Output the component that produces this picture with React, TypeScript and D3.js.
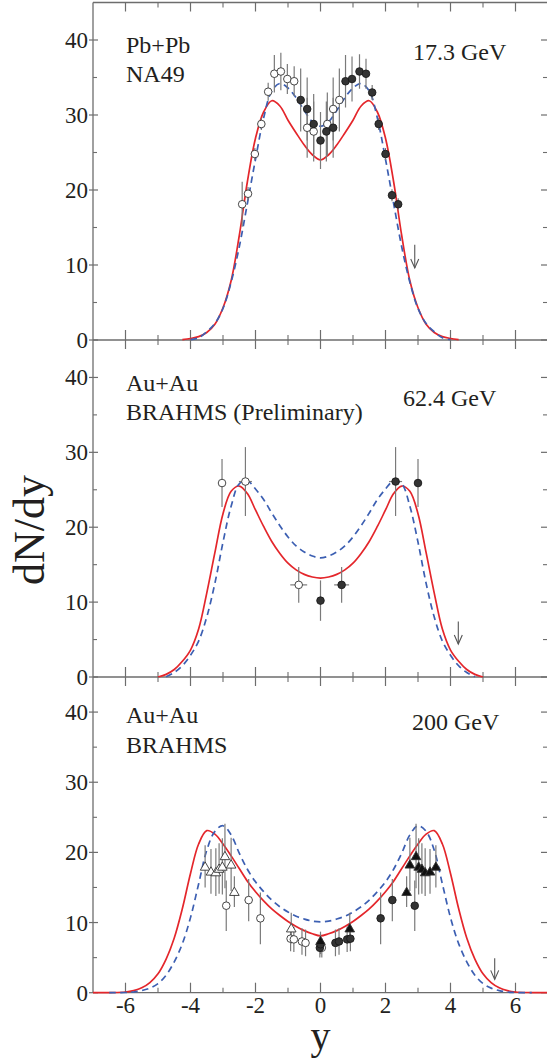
import React from "react";
import * as d3 from "d3";

// ---------- axis ticks ----------
const xMajorTicks = [-6, -4, -2, 0, 2, 4, 6];
const xMinorTicks = [-5, -3, -1, 1, 3, 5];
const yMajorTicks = [0, 10, 20, 30, 40];
const yMinorTicks = [5, 15, 25, 35];

// ---------- top panel: Pb+Pb NA49 17.3 GeV ----------
const topRedY = [-4.25,-4,-3.75,-3.5,-3.25,-3,-2.75,-2.5,-2.25,-2,-1.75,-1.5,-1.25,-1,-0.75,-0.5,-0.25,0,0.25,0.5,0.75,1,1.25,1.5,1.75,2,2.25,2.5,2.75,3,3.25,3.5,3.75,4,4.25];
const topRedV = [0.05,0.2,0.45,1.0,2.1,4.3,7.9,13.9,21.1,26.9,30.4,31.9,31.2,29.3,27.6,26.0,24.7,24.0,24.7,26.0,27.6,29.3,31.2,31.9,30.4,26.9,21.1,13.9,7.9,4.3,2.1,1.0,0.45,0.2,0.05];
const topBlueY = [-4,-3.75,-3.5,-3.25,-3,-2.75,-2.5,-2.25,-2,-1.75,-1.5,-1.25,-1,-0.75,-0.5,-0.25,0,0.25,0.5,0.75,1,1.25,1.5,1.75,2,2.25,2.5,2.75,3,3.25,3.5,3.75,4];
const topBlueV = [0.05,0.3,1.1,2.2,4.2,7.7,12.4,18.2,24.1,29.6,33.2,34.2,33.6,32.3,30.6,29.1,28.5,29.1,30.6,32.3,33.6,34.2,33.2,29.6,24.1,18.2,12.4,7.7,4.2,2.2,1.1,0.3,0.05];
const topOpenY = [-2.41,-2.23,-2.02,-1.82,-1.61,-1.42,-1.22,-1.02,-0.81,-0.41,-0.21,0.21,0.39,0.58];
const topOpenV = [18.1,19.5,24.8,28.8,33.1,35.5,35.8,34.8,34.5,28.3,27.8,28.8,30.8,32.0];
const topOpenErr = [3.0,0.9,0.8,0.8,1.2,2.5,2.5,2.0,2.0,4.0,4.0,4.2,4.2,4.2];
const topFilledY = [-0.61,-0.41,-0.21,0.0,0.18,0.39,0.77,0.97,1.20,1.40,1.59,1.79,2.00,2.20,2.39];
const topFilledV = [32.0,30.8,28.8,26.6,27.8,28.3,34.5,34.8,35.8,35.5,33.0,28.8,24.8,19.3,18.1];
const topFilledErr = [4.2,4.2,4.0,3.8,4.0,4.0,3.5,3.0,2.3,2.0,1.0,0.8,0.8,0.8,0.8];
const topArrow = [2.9, 12.7, 9.6];

// ---------- middle panel: Au+Au BRAHMS (Preliminary) 62.4 GeV ----------
const midRedY = [-5,-4.75,-4.5,-4.25,-4,-3.75,-3.5,-3.25,-3,-2.75,-2.5,-2.25,-2,-1.75,-1.5,-1.25,-1,-0.75,-0.5,-0.25,0,0.25,0.5,0.75,1,1.25,1.5,1.75,2,2.25,2.5,2.75,3,3.25,3.5,3.75,4,4.25,4.5,4.75,5];
const midRedV = [0,0.35,1.0,2.1,3.6,6.4,11.2,16.6,21.8,24.8,25.5,24.5,22.3,20.1,18.1,16.5,15.2,14.3,13.7,13.35,13.2,13.35,13.7,14.3,15.2,16.5,18.1,20.1,22.3,24.5,25.5,24.8,21.8,16.6,11.2,6.4,3.6,2.1,1.0,0.35,0];
const midBlueY = [-4.75,-4.5,-4.25,-4,-3.75,-3.5,-3.25,-3,-2.75,-2.5,-2.25,-2,-1.75,-1.5,-1.25,-1,-0.75,-0.5,-0.25,0,0.25,0.5,0.75,1,1.25,1.5,1.75,2,2.25,2.5,2.75,3,3.25,3.5,3.75,4,4.25,4.5,4.75];
const midBlueV = [0.02,0.6,1.5,2.9,4.8,8.0,12.5,18.0,22.8,25.8,26.2,25.1,23.7,21.9,20.2,18.7,17.5,16.7,16.15,15.9,16.15,16.7,17.5,18.7,20.2,21.9,23.7,25.1,26.2,25.8,22.8,18.0,12.5,8.0,4.8,2.9,1.5,0.6,0.02];
const midOpenY = [-3.03,-2.31,-0.67];
const midOpenV = [25.9,26.1,12.3];
const midOpenErr = [3.2,4.6,2.4];
const midOpenXErr = [0,0.2,0.26];
const midFilledY = [0.0,0.65,2.31,3.0];
const midFilledV = [10.2,12.3,26.1,25.9];
const midFilledErr = [2.7,2.4,4.6,3.2];
const midFilledXErr = [0,0.23,0.2,0];
const midArrow = [4.24, 7.4, 4.4];

// ---------- bottom panel: Au+Au BRAHMS 200 GeV ----------
const botRedY = [-7,-6.5,-6,-5.75,-5.5,-5.25,-5,-4.75,-4.5,-4.25,-4,-3.75,-3.5,-3.25,-3,-2.75,-2.5,-2.25,-2,-1.75,-1.5,-1.25,-1,-0.75,-0.5,-0.25,0,0.25,0.5,0.75,1,1.25,1.5,1.75,2,2.25,2.5,2.75,3,3.25,3.5,3.75,4,4.25,4.5,4.75,5,5.25,5.5,5.75,6,6.5,7];
const botRedV = [0,0.02,0.1,0.3,0.7,1.45,2.7,4.8,7.8,12.0,17.0,21.2,23.1,22.6,21.2,19.5,17.7,15.9,14.4,13.1,11.95,11.0,10.15,9.45,8.85,8.4,8.1,8.4,8.85,9.45,10.15,11.0,11.95,13.1,14.4,15.9,17.7,19.5,21.2,22.6,23.1,21.2,17.0,12.0,7.8,4.8,2.7,1.45,0.7,0.3,0.1,0.02,0];
const botBlueY = [-6.5,-6,-5.75,-5.5,-5.25,-5,-4.75,-4.5,-4.25,-4,-3.75,-3.5,-3.25,-3,-2.75,-2.5,-2.25,-2,-1.75,-1.5,-1.25,-1,-0.75,-0.5,-0.25,0,0.25,0.5,0.75,1,1.25,1.5,1.75,2,2.25,2.5,2.75,3,3.25,3.5,3.75,4,4.25,4.5,4.75,5,5.25,5.5,5.75,6,6.5];
const botBlueV = [0,0.03,0.1,0.3,0.65,1.3,2.5,4.4,7.0,10.7,15.5,20.3,23.0,23.8,22.5,19.9,17.6,15.8,14.4,13.2,12.25,11.5,10.9,10.5,10.2,10.1,10.2,10.5,10.9,11.5,12.25,13.2,14.4,15.8,17.6,19.9,22.5,23.8,23.0,20.3,15.5,10.7,7.0,4.4,2.5,1.3,0.65,0.3,0.1,0.03,0];
const botOpenTriY = [-3.55,-3.37,-3.22,-3.12,-3.02,-2.94,-2.75,-2.65,-0.90];
const botOpenTriV = [18.0,17.3,17.2,17.7,18.0,19.5,18.3,14.4,9.2];
const botOpenTriErr = [3.0,3.2,3.4,3.6,4.0,4.6,3.8,2.2,2.2];
const botFilledTriY = [0.0,0.90,2.65,2.75,2.94,3.02,3.12,3.22,3.37,3.55];
const botFilledTriV = [7.4,9.2,14.4,18.3,19.5,18.0,17.7,17.2,17.3,18.0];
const botFilledTriErr = [1.3,2.2,2.2,3.8,4.6,4.0,3.6,3.4,3.2,3.0];
const botOpenCircY = [-2.90,-2.21,-1.85,-0.92,-0.82,-0.57,-0.46,0.04];
const botOpenCircV = [12.4,13.2,10.6,7.7,7.6,7.3,7.1,6.4];
const botOpenCircErr = [3.6,3.0,3.7,1.8,1.8,1.9,1.9,1.4];
const botOpenCircXErr = [0,0.12,0,0,0,0,0,0];
const botFilledCircY = [-0.02,0.0,0.46,0.57,0.82,0.92,1.85,2.21,2.90];
const botFilledCircV = [6.4,6.9,7.1,7.3,7.6,7.7,10.6,13.2,12.4];
const botFilledCircErr = [1.4,1.4,1.9,1.9,1.8,1.8,3.7,3.0,3.6];
const botFilledCircXErr = [0,0,0,0,0,0,0,0.12,0];
const botArrow = [5.36, 4.9, 1.9];

const FONT = "Liberation Serif, Times New Roman, serif";
const AXIS = "#6d6d6d";
const TEXT = "#231f20";
const RED = "#e4262b";
const BLUE = "#3c5fb2";
const ERR = "#7a7a7a";

const xScale = d3.scaleLinear().domain([-7, 7]).range([93, 548]);

type Series = {
  ys: number[]; vs: number[]; err: number[]; xerr?: number[];
  shape: "circle" | "triangle"; filled: boolean;
};

type PanelDef = {
  bottom: number; top: number;
  red: [number[], number[]]; blue: [number[], number[]];
  series: Series[];
  arrow: number[];
  label1: string; label2: string; energy: string;
  l1y: number; l2y: number; ex: number; ey: number;
  drawTop: boolean;
};

const panels: PanelDef[] = [
  {
    bottom: 340, top: 2.5,
    red: [topRedY, topRedV], blue: [topBlueY, topBlueV],
    series: [
      { ys: topOpenY, vs: topOpenV, err: topOpenErr, shape: "circle", filled: false },
      { ys: topFilledY, vs: topFilledV, err: topFilledErr, shape: "circle", filled: true },
    ],
    arrow: topArrow,
    label1: "Pb+Pb", label2: "NA49", energy: "17.3 GeV",
    l1y: 53, l2y: 81.5, ex: 413, ey: 60, drawTop: true,
  },
  {
    bottom: 677, top: 340,
    red: [midRedY, midRedV], blue: [midBlueY, midBlueV],
    series: [
      { ys: midOpenY, vs: midOpenV, err: midOpenErr, xerr: midOpenXErr, shape: "circle", filled: false },
      { ys: midFilledY, vs: midFilledV, err: midFilledErr, xerr: midFilledXErr, shape: "circle", filled: true },
    ],
    arrow: midArrow,
    label1: "Au+Au", label2: "BRAHMS (Preliminary)", energy: "62.4 GeV",
    l1y: 391, l2y: 420, ex: 403, ey: 406, drawTop: false,
  },
  {
    bottom: 992.7, top: 677,
    red: [botRedY, botRedV], blue: [botBlueY, botBlueV],
    series: [
      { ys: botOpenCircY, vs: botOpenCircV, err: botOpenCircErr, xerr: botOpenCircXErr, shape: "circle", filled: false },
      { ys: botFilledCircY, vs: botFilledCircV, err: botFilledCircErr, xerr: botFilledCircXErr, shape: "circle", filled: true },
      { ys: botOpenTriY, vs: botOpenTriV, err: botOpenTriErr, shape: "triangle", filled: false },
      { ys: botFilledTriY, vs: botFilledTriV, err: botFilledTriErr, shape: "triangle", filled: true },
    ],
    arrow: botArrow,
    label1: "Au+Au", label2: "BRAHMS", energy: "200 GeV",
    l1y: 723, l2y: 753, ex: 412, ey: 730, drawTop: false,
  },
];

const textStyle = { fontFamily: FONT };

function Panel({ p }: { p: PanelDef }) {
  const y = d3.scaleLinear().domain([0, 45]).range([p.bottom, p.top]);
  const line = d3.line<[number, number]>()
    .x((d) => xScale(d[0]))
    .y((d) => y(d[1]))
    .curve(d3.curveCatmullRom.alpha(0.5));
  const redPts = p.red[0].map((v, i) => [v, p.red[1][i]] as [number, number]);
  const bluePts = p.blue[0].map((v, i) => [v, p.blue[1][i]] as [number, number]);
  const tri = d3.symbol().type(d3.symbolTriangle).size(40)();
  const [ax, a1, a2] = p.arrow;
  const axp = xScale(ax);
  return (
    <g>
      {/* frame */}
      <line x1={93} x2={93} y1={p.top} y2={p.bottom} stroke={AXIS} strokeWidth={1.3} />
      <line x1={93} x2={548} y1={p.bottom} y2={p.bottom} stroke={AXIS} strokeWidth={1.3} />
      {p.drawTop && <line x1={93} x2={548} y1={p.top} y2={p.top} stroke={AXIS} strokeWidth={1.3} />}
      {/* x ticks */}
      {xMajorTicks.map((t) => (
        <g key={"xM" + t}>
          <line x1={xScale(t)} x2={xScale(t)} y1={p.bottom} y2={p.bottom - 10} stroke={AXIS} strokeWidth={1.2} />
          <line x1={xScale(t)} x2={xScale(t)} y1={p.top} y2={p.top + 9} stroke={AXIS} strokeWidth={1.2} />
        </g>
      ))}
      {xMinorTicks.map((t) => (
        <g key={"xm" + t}>
          <line x1={xScale(t)} x2={xScale(t)} y1={p.bottom} y2={p.bottom - 5} stroke={AXIS} strokeWidth={1.1} />
          <line x1={xScale(t)} x2={xScale(t)} y1={p.top} y2={p.top + 5} stroke={AXIS} strokeWidth={1.1} />
        </g>
      ))}
      {/* y ticks */}
      {yMajorTicks.map((t) => (
        <g key={"yM" + t}>
          <line x1={89} x2={98} y1={y(t)} y2={y(t)} stroke={AXIS} strokeWidth={1.2} />
          <line x1={541} x2={548} y1={y(t)} y2={y(t)} stroke={AXIS} strokeWidth={1.2} />
          <text x={88} y={y(t)} dy="0.35em" textAnchor="end" style={textStyle} fontSize={23} fill={TEXT}>{t}</text>
        </g>
      ))}
      {yMinorTicks.map((t) => (
        <g key={"ym" + t}>
          <line x1={93} x2={97} y1={y(t)} y2={y(t)} stroke={AXIS} strokeWidth={1.1} />
          <line x1={543} x2={548} y1={y(t)} y2={y(t)} stroke={AXIS} strokeWidth={1.1} />
        </g>
      ))}
      {/* curves */}
      <path d={line(redPts) || ""} fill="none" stroke={RED} strokeWidth={1.7} />
      <path d={line(bluePts) || ""} fill="none" stroke={BLUE} strokeWidth={1.7} strokeDasharray="6.5,4.5" />
      {/* arrow */}
      <g stroke="#555" strokeWidth={1.1} fill="none">
        <line x1={axp} x2={axp} y1={y(a1)} y2={y(a2)} />
        <polyline points={`${axp - 4},${y(a2) - 9} ${axp},${y(a2)} ${axp + 4},${y(a2) - 9}`} />
      </g>
      {/* error bars */}
      {p.series.map((s, si) => (
        <g key={"e" + si} stroke={ERR} strokeWidth={1.2}>
          {s.ys.map((yy, i) => (
            <g key={i}>
              <line x1={xScale(yy)} x2={xScale(yy)} y1={y(s.vs[i] - s.err[i])} y2={y(s.vs[i] + s.err[i])} />
              {s.xerr && s.xerr[i] > 0 && (
                <line x1={xScale(yy - s.xerr[i])} x2={xScale(yy + s.xerr[i])} y1={y(s.vs[i])} y2={y(s.vs[i])} />
              )}
            </g>
          ))}
        </g>
      ))}
      {/* markers */}
      {p.series.map((s, si) => (
        <g key={"m" + si}>
          {s.ys.map((yy, i) =>
            s.shape === "circle" ? (
              <circle key={i} cx={xScale(yy)} cy={y(s.vs[i])} r={3.8}
                fill={s.filled ? "#333" : "#fff"} stroke={s.filled ? "#1a1a1a" : "#333"} strokeWidth={0.9} />
            ) : (
              <path key={i} d={tri || ""} transform={`translate(${xScale(yy)},${y(s.vs[i]) + 1})`}
                fill={s.filled ? "#111" : "#fff"} stroke="#333" strokeWidth={0.9} />
            )
          )}
        </g>
      ))}
      {/* labels */}
      <text x={126} y={p.l1y} style={textStyle} fontSize={24} fill={TEXT}>{p.label1}</text>
      <text x={126} y={p.l2y} style={textStyle} fontSize={24} fill={TEXT}>{p.label2}</text>
      <text x={p.ex} y={p.ey} style={textStyle} fontSize={24} fill={TEXT}>{p.energy}</text>
    </g>
  );
}

export default function App() {
  const last = panels[panels.length - 1];
  return (
    <svg width={547} height={1061} style={{ position: "absolute", left: 0, top: 0, background: "#fff" }}>
      <rect x={0} y={0} width={547} height={1061} fill="#fff" />
      {panels.map((p, i) => <Panel key={i} p={p} />)}
      {xMajorTicks.map((t) => (
        <text key={"xl" + t} x={xScale(t)} y={last.bottom + 20.5} textAnchor="middle" style={textStyle} fontSize={23} fill={TEXT}>{t}</text>
      ))}
      <text x={xScale(0)} y={1049} textAnchor="middle" style={textStyle} fontSize={40} fill={TEXT}>y</text>
      <text transform="translate(44,530) rotate(-90)" textAnchor="middle" style={textStyle} fontSize={44} fill={TEXT}>dN/dy</text>
    </svg>
  );
}
